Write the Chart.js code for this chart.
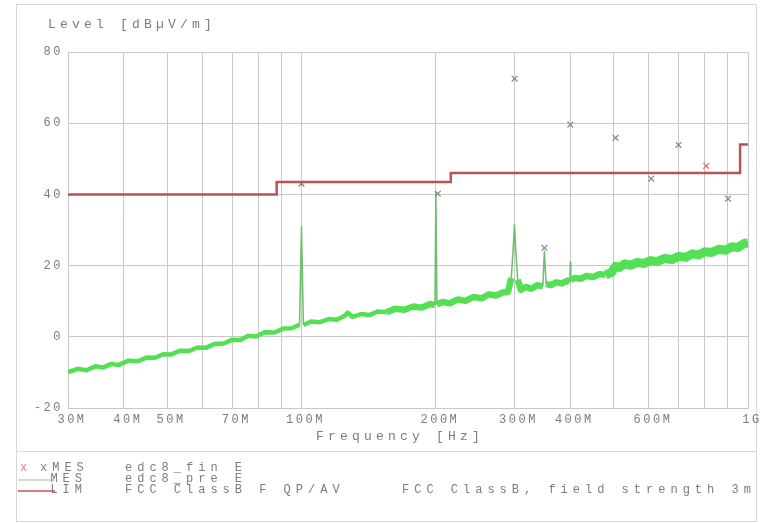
<!DOCTYPE html>
<html>
<head>
<meta charset="utf-8">
<script src="https://cdn.jsdelivr.net/npm/chart.js@4.4.1/dist/chart.umd.min.js"></script>
<style>
  body { margin: 0; background: #fff; }
  #wrap { position: relative; width: 763px; height: 523px; overflow: hidden;
          font-family: "Liberation Mono", monospace; color: #7c7c7c; }
  #frame { position: absolute; left: 16px; top: 4px; width: 739px; height: 516px; border: 1px solid #d8d8d8; }
  #sep { position: absolute; left: 16px; top: 451px; width: 740px; border-top: 1px solid #d8d8d8; }
  canvas { position: absolute; left: 0; top: 0; }
  .txt { position: absolute; font-size: 13px; line-height: 15px; letter-spacing: 4.2px; white-space: pre; }
  #yunit { left: 48px; top: 17px; }
  #xtitle { left: 316px; top: 429px; }
  .row { position: absolute; left: 0; width: 763px; height: 11px; font-size: 12px; line-height: 11px;
         letter-spacing: 5px; white-space: pre; }
  .row span { position: absolute; top: 0; }
  .sw { left: 18px; width: 37px; top: 5px !important; height: 0; }
</style>
</head>
<body>
<div id="wrap">
  <div id="frame"></div>
  <div id="sep"></div>
  <canvas id="emcChart" width="763" height="523"></canvas>
  <div class="txt" id="yunit">Level [dBµV/m]</div>
  <div class="txt" id="xtitle">Frequency [Hz]</div>
  <div id="legend"></div>
</div>
<script>
// frequencies in MHz, levels in dBuV/m

// preview scan (green trace)
const mesFreq = [30, 31.5, 33, 34.5, 36, 37.5, 39, 41, 43, 45, 47, 49, 51, 53.5, 56, 58.5, 61, 64, 67, 70,
    73, 76, 79, 83, 87, 91, 95, 99, 100, 101, 105, 110, 115, 120, 125, 127, 130, 136, 142, 148,
    155, 162, 170, 178, 186, 194, 199, 200, 201, 207, 215, 224, 233, 243, 253, 263, 273, 283, 290, 295,
    298, 300, 302, 305, 310, 318, 327, 337, 347, 350, 353, 362, 372, 383, 394, 399, 400, 401, 410, 422,
    435, 450, 465, 480, 495, 505, 515, 530, 545, 565, 585, 605, 625, 650, 675, 700, 725, 750, 775, 800,
    830, 860, 890, 920, 950, 980, 1000];
const mesLevel = [-9.9, -9.0, -9.4, -8.3, -8.6, -7.6, -7.9, -6.7, -6.9, -5.8, -5.9, -4.9, -5.0, -3.9, -4.0, -3.0, -3.1, -2.0, -1.9, -0.8,
    -0.9, 0.3, 0.1, 1.3, 1.2, 2.3, 2.4, 3.4, 31.0, 3.3, 4.3, 4.1, 5.0, 4.8, 5.9, 6.8, 5.6, 6.4, 6.1, 7.1,
    6.9, 7.9, 7.6, 8.5, 8.2, 9.2, 8.9, 40.5, 9.1, 9.8, 9.4, 10.5, 10.1, 11.2, 10.8, 11.9, 11.6, 12.5, 12.6, 16.5,
    25.0, 31.5, 24.0, 16.0, 13.2, 14.0, 13.5, 14.5, 14.1, 24.0, 14.8, 14.5, 15.3, 15.0, 15.8, 15.4, 21.0, 16.0, 16.5, 16.3,
    17.1, 16.8, 17.6, 17.4, 18.1, 19.8, 19.5, 20.5, 20.1, 20.9, 20.6, 21.4, 21.1, 22.0, 21.7, 22.6, 22.3, 23.3, 23.0, 23.9,
    23.7, 24.6, 24.3, 25.3, 25.1, 26.2, 26.4];

// FCC class B limit
const limFreq = [30, 88, 88, 216, 216, 960, 960, 1000];
const limLevel = [40, 40, 43.5, 43.5, 46, 46, 54, 54];

// final measurement markers
const finFreq = [100, 202, 300, 350, 400, 505, 607, 699, 806, 902];
const finLevel = [43.0, 40.2, 72.5, 25.0, 59.6, 55.9, 44.4, 53.9, 48.0, 38.8];
const finMarkColor = ['#9a6a6a', '#8a8a8a', '#8a8a8a', '#8a8a8a', '#8a8a8a', '#8a8a8a', '#8a8a8a', '#8a8a8a', '#e07070', '#8a8a8a'];

// axes
const xGrid = [30, 40, 50, 60, 70, 80, 90, 100, 200, 300, 400, 500, 600, 700, 800, 900, 1000];
const xTickValues = [30, 40, 50, 70, 100, 200, 300, 400, 600, 1000];
const xTickLabels = ['30M', '40M', '50M', '70M', '100M', '200M', '300M', '400M', '600M', '1G'];
const yTicks = [-20, 0, 20, 40, 60, 80];

// legend rows
const legendKeys = ['xMES', 'MES', 'LIM'];
const legendNames = ['edc8_fin E', 'edc8_pre E', 'FCC ClassB F QP/AV'];
const legendNotes = ['', '', 'FCC ClassB, field strength 3m'];

const toPoints = (xs, ys) => xs.map((x, i) => ({ x: x, y: ys[i] }));
const tickFont = { family: 'Liberation Mono', size: 12 };
const isSpike = c => Math.abs(c.p1.parsed.y - c.p0.parsed.y) > 4;
// the noise band of the scan gets wider towards high frequencies
const bandWidth = c => {
    if (isSpike(c)) return 1.5;
    const f = c.p0.parsed.x;
    return f < 150 ? 4.5 : f < 480 ? 6.5 : 9;
};

const ctx = document.getElementById('emcChart').getContext('2d');
window.chart = new Chart(ctx, {
    type: 'line',
    data: {
        datasets: [{
            label: 'MES edc8_pre E',
            data: toPoints(mesFreq, mesLevel),
            borderColor: 'rgb(84,224,84)',
            borderWidth: 4.5,
            borderJoinStyle: 'round',
            pointRadius: 0,
            tension: 0,
            order: 3,
            segment: {
                borderWidth: bandWidth,
                borderColor: c => isSpike(c) ? 'rgb(110,190,110)' : undefined
            }
        }, {
            label: 'LIM FCC ClassB F QP/AV',
            data: toPoints(limFreq, limLevel),
            borderColor: '#b85454',
            borderWidth: 2.5,
            pointRadius: 0,
            tension: 0,
            order: 2
        }, {
            label: 'xMES edc8_fin E',
            data: toPoints(finFreq, finLevel),
            showLine: false,
            pointStyle: 'crossRot',
            pointRadius: 4,
            borderWidth: 1.3,
            borderColor: finMarkColor,
            order: 1
        }]
    },
    options: {
        responsive: false,
        animation: false,
        layout: { padding: { top: 52, left: 20, right: 15, bottom: 95 } },
        plugins: {
            legend: { display: false },
            tooltip: { enabled: false }
        },
        scales: {
            x: {
                type: 'logarithmic',
                min: 30,
                max: 1000,
                afterBuildTicks: s => { s.ticks = xGrid.map(v => ({ value: v })); },
                afterFit: s => { s.height = 20; },
                ticks: {
                    autoSkip: false,
                    maxRotation: 0,
                    padding: 5,
                    labelOffset: 4,
                    color: '#7c7c7c',
                    font: tickFont,
                    callback: v => {
                        const i = xTickValues.indexOf(v);
                        return i < 0 ? '' : xTickLabels[i];
                    }
                },
                grid: { color: '#c8c8c8', drawTicks: false },
                border: { color: '#c8c8c8' }
            },
            y: {
                min: -20,
                max: 80,
                afterBuildTicks: s => { s.ticks = yTicks.map(v => ({ value: v })); },
                afterFit: s => { s.width = 48; },
                ticks: { padding: 5, color: '#7c7c7c', font: tickFont },
                grid: { color: '#c8c8c8', drawTicks: false },
                border: { color: '#c8c8c8' }
            }
        }
    },
    plugins: [{
        id: 'wideText',
        beforeDraw: c => { c.ctx.letterSpacing = '2.5px'; }
    }]
});

// legend below the plot, one row per trace
const legend = document.getElementById('legend');
legendKeys.forEach((key, i) => {
    const row = document.createElement('div');
    row.className = 'row';
    row.style.top = (463 + i * 11) + 'px';
    let swatch;
    if (i === 0) {
        swatch = '<span style="left:20px;color:#d08080">x</span>';
    } else {
        const col = i === 1 ? '#cfe3cf' : '#d87c7c';
        swatch = '<span class="sw" style="border-top:2px solid ' + col + '"></span>';
    }
    row.innerHTML = swatch +
        '<span style="left:40px;width:47px;text-align:right">' + key + '</span>' +
        '<span style="left:125px">' + legendNames[i] + '</span>' +
        '<span style="left:402px">' + legendNotes[i] + '</span>';
    legend.appendChild(row);
});
</script>
</body>
</html>
